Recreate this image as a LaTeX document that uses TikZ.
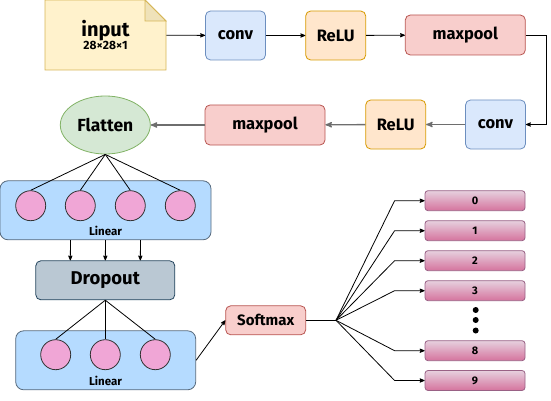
\documentclass[tikz,border=0pt]{standalone}
\usepackage{fontspec}
\setmainfont{Fira Sans}
\usetikzlibrary{positioning}
\usetikzlibrary{arrows}
\usetikzlibrary{shapes.geometric}

\definecolor{noteFill}{HTML}{FFF2CC}
\definecolor{noteLine}{HTML}{D6B656}
\definecolor{noteFold}{HTML}{EFE2B9}
\definecolor{convFill}{HTML}{DAE8FC}
\definecolor{convLine}{HTML}{6C8EBF}
\definecolor{reluFill}{HTML}{FFE6CC}
\definecolor{reluLine}{HTML}{D79B00}
\definecolor{poolFill}{HTML}{F8CECC}
\definecolor{poolLine}{HTML}{B85450}
\definecolor{flatFill}{HTML}{D5E8D4}
\definecolor{flatLine}{HTML}{82B366}
\definecolor{linFill}{HTML}{B5DBFF}
\definecolor{linLine}{HTML}{56697C}
\definecolor{unitFill}{HTML}{F0A6D6}
\definecolor{dropFill}{HTML}{BAC8D3}
\definecolor{dropLine}{HTML}{23445D}
\definecolor{outTop}{HTML}{E6D0DE}
\definecolor{outBot}{HTML}{D5739D}
\definecolor{outLine}{HTML}{996185}
\definecolor{flowGray}{HTML}{6E6E6E}

\begin{document}
\begin{tikzpicture} [x=1pt, y=-1pt, ->, >=stealth', line width=0.8pt,
            align=center, inner sep=0pt]

            \tikzstyle{block} = [rectangle, rounded corners=5pt, line width=0.8pt,
                minimum width=60pt, minimum height=49pt, font=\bfseries\fontsize{16.5}{18}\selectfont]
            \tikzstyle{conv} = [block, fill=convFill, draw=convLine]
            \tikzstyle{relu} = [block, fill=reluFill, draw=reluLine]
            \tikzstyle{pool} = [block, fill=poolFill, draw=poolLine, minimum width=120pt, minimum height=40pt]
            \tikzstyle{layer} = [rectangle, rounded corners=8pt, fill=linFill, draw=linLine, minimum height=59pt]
            \tikzstyle{unit} = [circle, fill=unitFill, draw=black!80, minimum size=30pt]
            \tikzstyle{tag} = [font=\bfseries\fontsize{11.5}{12}\selectfont]
            \tikzstyle{class} = [rectangle, rounded corners=3pt, top color=outTop, bottom color=outBot,
                draw=outLine, minimum width=100pt, minimum height=20pt, font=\bfseries\fontsize{11}{12}\selectfont]
            \tikzstyle{back} = [flowGray, line width=1.3pt]

            \useasboundingbox (0,0) rectangle (551,401);

            % input note
            \filldraw[-, fill=noteFill, draw=noteLine] (45,0) -- (145,0) -- (166,21) -- (166,70) -- (45,70) -- cycle;
            \filldraw[-, fill=noteFold, draw=noteLine] (145,0) -- (145,21) -- (166,21) -- cycle;
            \node(input) at(105.5, 35) [minimum width=121pt, minimum height=70pt]
                {{\bfseries\fontsize{20}{21}\selectfont input}\\[0pt]{\bfseries\fontsize{12}{13}\selectfont 28×28×1}};

            % feature extractor
            \node[conv](conv_1) at(235.5, 35.5) {conv};
            \node[relu](relu_1) at(335.7, 35.5) {ReLU};
            \node[pool](pool_1) at(465.3, 35) {maxpool};
            \node[conv](conv_2) at(495.5, 124.5) {conv};
            \node[relu](relu_2) at(395.7, 124.5) {ReLU};
            \node[pool](pool_2) at(265, 125) {maxpool};
            \node[ellipse, fill=flatFill, draw=flatLine, minimum width=90pt, minimum height=58pt,
                font=\bfseries\fontsize{17.5}{19}\selectfont](flatten) at(105.3, 125) {Flatten};
            \coordinate (turn) at(546, 35);

            % classifier
            \node[layer, minimum width=211pt](linear_1) at(105.5, 210.3) {};
            \node[unit](u_11) at(30.7, 205.7) {};
            \node[unit](u_12) at(80.3, 205.7) {};
            \node[unit](u_13) at(130.3, 205.7) {};
            \node[unit](u_14) at(180.3, 205.7) {};
            \node[tag](tag_1) at(105.5, 231) {Linear};

            \node[block, fill=dropFill, draw=dropLine, minimum width=139pt, minimum height=39pt,
                font=\bfseries\fontsize{18.5}{20}\selectfont](dropout) at(105.3, 280.3) {Dropout};

            \node[layer, minimum width=180pt](linear_2) at(105.7, 360.3) {};
            \node[unit](u_21) at(55.7, 354.7) {};
            \node[unit](u_22) at(105.3, 354.7) {};
            \node[unit](u_23) at(155.3, 354.7) {};
            \node[tag](tag_2) at(105.5, 381) {Linear};

            \node[block, fill=poolFill, draw=poolLine, minimum width=80pt, minimum height=29pt,
                font=\bfseries\fontsize{15}{16}\selectfont](softmax) at(265.7, 320.3) {Softmax};
            \coordinate (split) at(336, 320.3);

            \node[class](out_0) at(475, 200.7) {0};
            \node[class](out_1) at(475, 230.7) {1};
            \node[class](out_2) at(475, 260.7) {2};
            \node[class](out_3) at(475, 290.7) {3};
            \node[class](out_8) at(475, 350.7) {8};
            \node[class](out_9) at(475, 380.5) {9};
            \foreach \y in {310, 320, 330.5}
                \fill (475.7, \y) circle (3pt);

            \path (input) edge (conv_1)
                (conv_1) edge (relu_1)
                (relu_1) edge (pool_1)
            ;
            \draw (pool_1.east) -- (turn) |- (conv_2.east);
            \path[back] (conv_2) edge (relu_2)
                (relu_2) edge (pool_2)
                (pool_2) edge (flatten)
            ;

            \foreach \n in {u_11, u_12, u_13, u_14}
                \draw[-] (flatten.south) -- (\n.north);
            \foreach \dx in {-35, 0, 35}
                \draw ([xshift=\dx pt]linear_1.south) -- ([xshift=\dx pt]dropout.north);
            \foreach \n in {u_21, u_22, u_23}
                \draw[-] (dropout.south) -- (\n.north);
            \draw (linear_2.east) -- (softmax.west);
            \draw[-] (softmax.east) -- (split);
            \foreach \n in {out_0, out_1, out_2, out_3, out_8, out_9}
                \draw (split) -- ([xshift=-30pt]\n.west) -- (\n.west);
       \end{tikzpicture}
\end{document}
